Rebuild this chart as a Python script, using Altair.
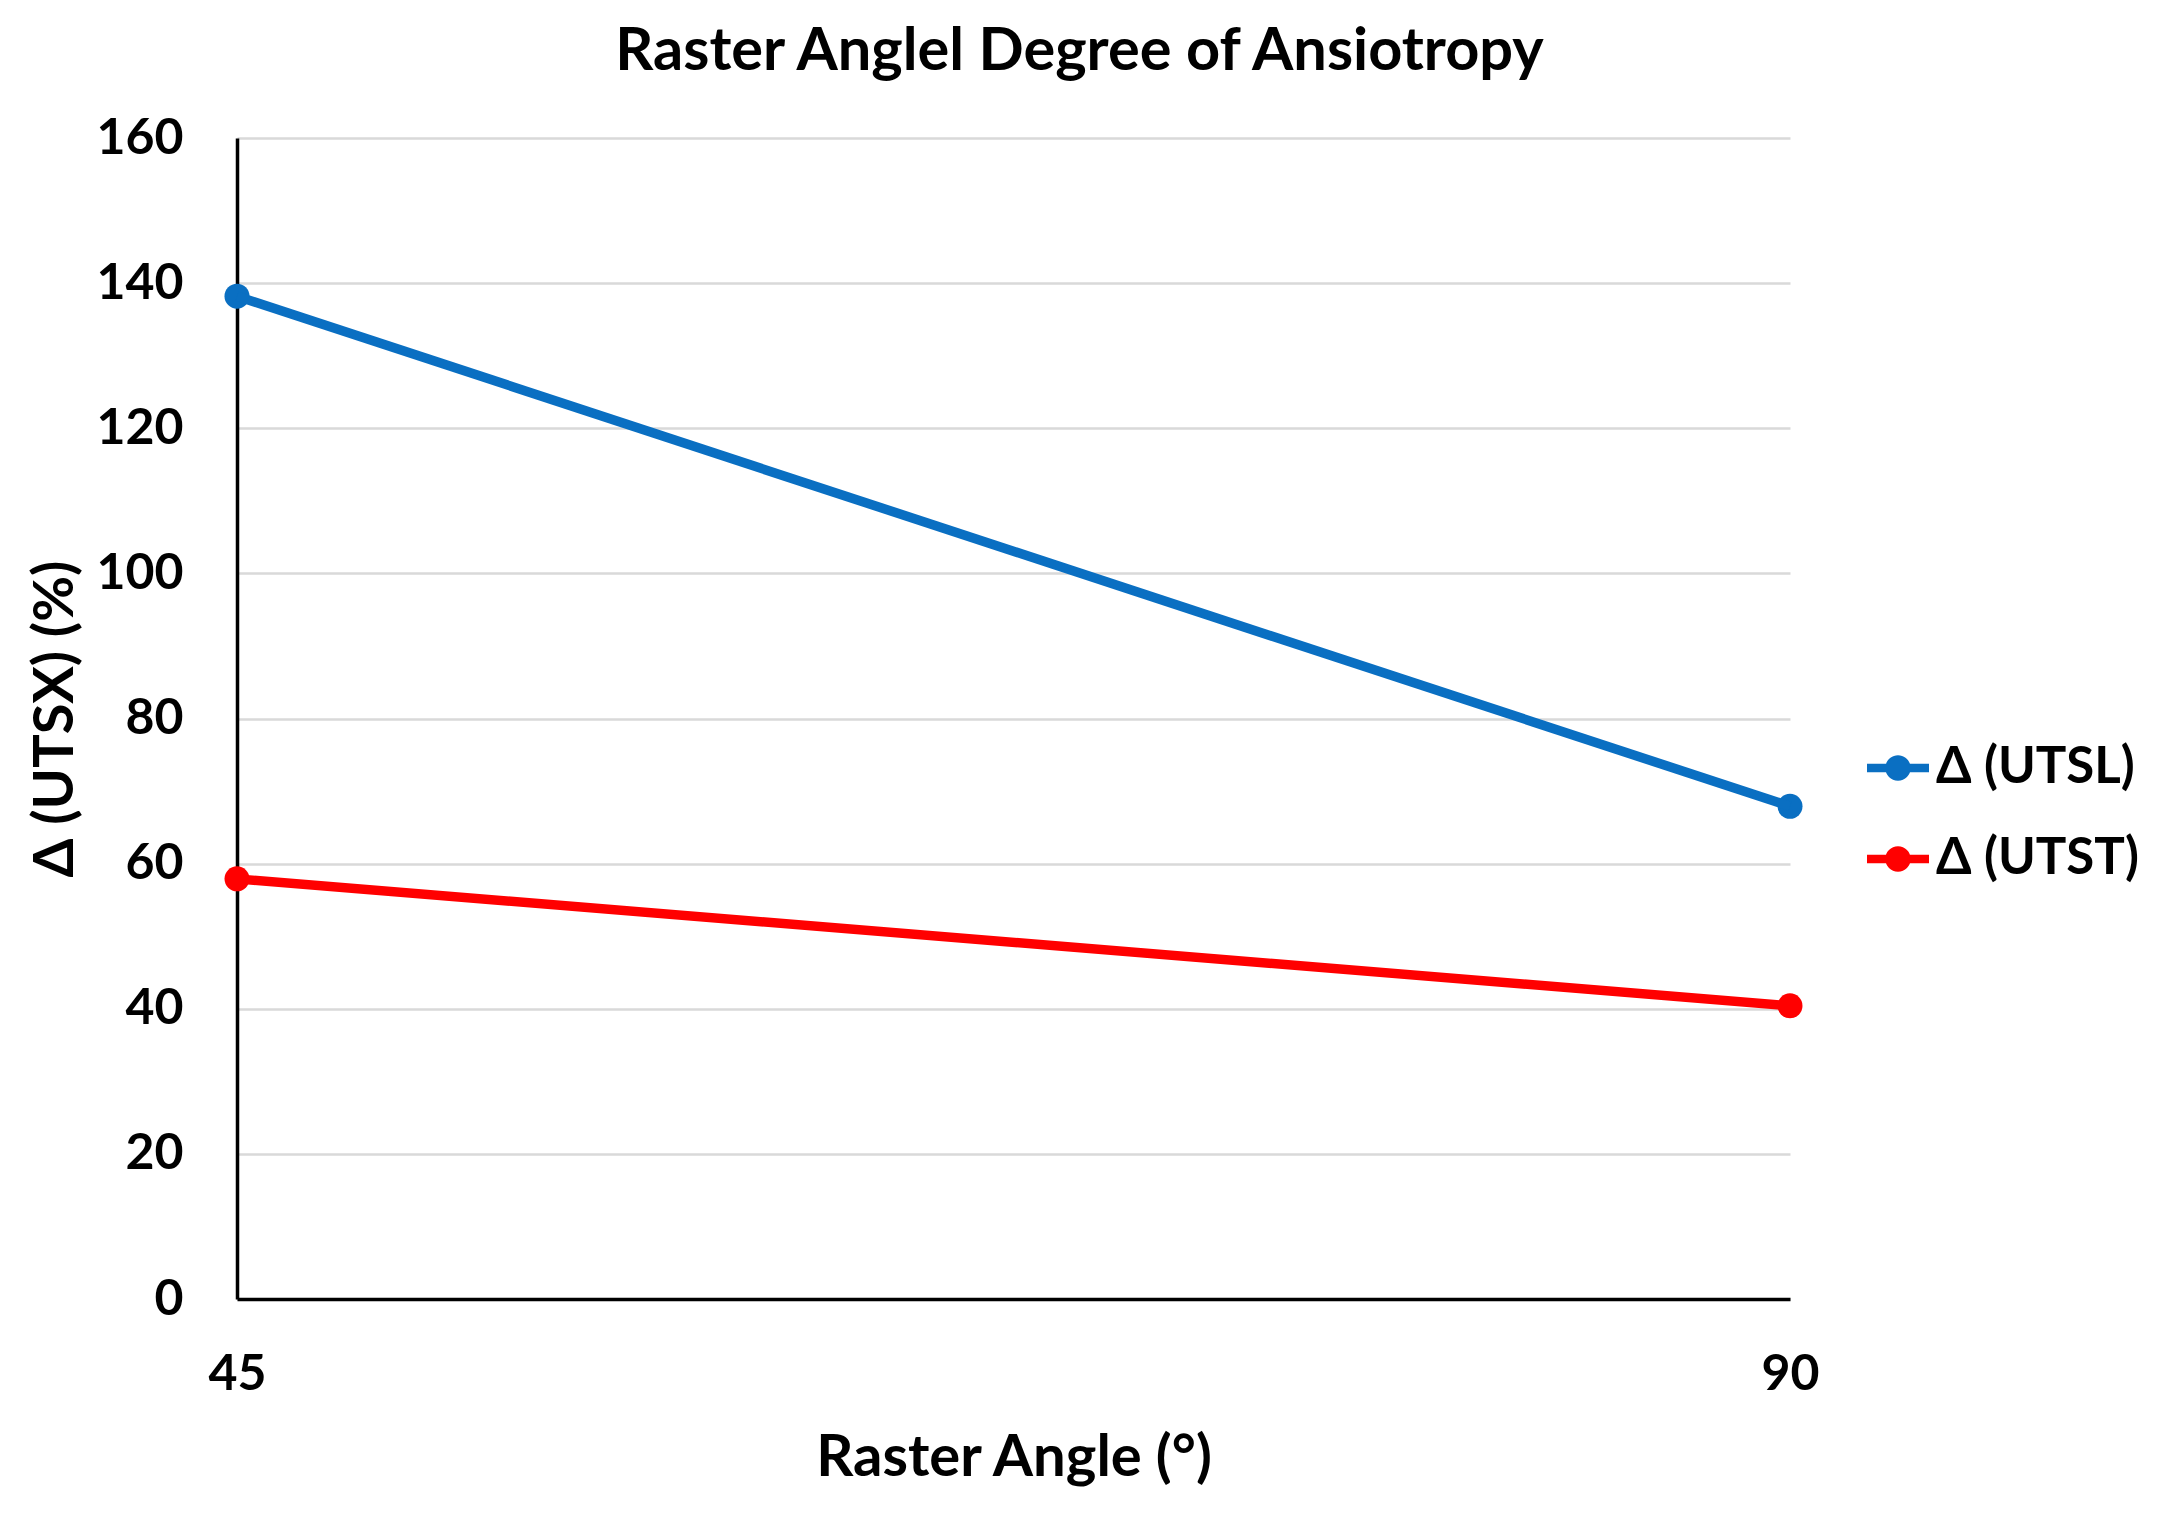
import altair as alt
import pandas as pd

angles = [45, 90]
series_names = ["Δ (UTSL)", "Δ (UTST)"]
utsl = [138.2, 67.9]
utst = [57.9, 40.4]
colors = ["#0a6fc2", "#ff0000"]
y_ticks = [0, 20, 40, 60, 80, 100, 120, 140, 160]
x_ticks = [45, 90]

rows = []
for a, v in zip(angles, utsl):
    rows.append({"angle": a, "value": v, "series": series_names[0]})
for a, v in zip(angles, utst):
    rows.append({"angle": a, "value": v, "series": series_names[1]})
df = pd.DataFrame(rows)

FONT = "Lato"

x_enc = alt.X(
    "angle:Q",
    scale=alt.Scale(domain=[45, 90], nice=False, zero=False),
    axis=alt.Axis(
        values=x_ticks, title="Raster Angle (°)", grid=False, ticks=False, tickSize=0,
        domainColor="black", domainWidth=3.5, labelFont=FONT, labelFontSize=50,
        labelFontWeight="bold", labelColor="black", labelPadding=75,
        labelBaseline="middle", labelFlush=False, titleFont=FONT, titleFontSize=58,
        titleFontWeight="bold", titleColor="black", titleX=776.5, titleY=159,
        titleBaseline="middle", titleAnchor="middle",
    ),
)
y_enc = alt.Y(
    "value:Q",
    scale=alt.Scale(domain=[0, 160], nice=False),
    axis=alt.Axis(
        values=y_ticks, title="Δ (UTSX) (%)", grid=True, gridColor="#d9d9d9",
        gridWidth=2.5, ticks=False, tickSize=0, domainColor="black", domainWidth=3.5,
        labelFont=FONT, labelFontSize=50, labelFontWeight="bold", labelColor="black",
        labelPadding=54, labelFlush=False, titleFont=FONT, titleFontSize=56,
        titleFontWeight="bold", titleColor="black", titleX=-182, titleY=580.5,
        titleAngle=270, titleBaseline="middle", titleAlign="center",
    ),
)

color_scale = alt.Scale(domain=series_names, range=colors)

legend_symbol = (
    "M-1,-0.14 L1,-0.14 L1,0.14 L-1,0.14 Z "
    "M0.41,0 A0.41,0.41 0 1,1 -0.41,0 A0.41,0.41 0 1,1 0.41,0 Z"
)

legend = alt.Legend(
    title=None, orient="none", legendX=1630, legendY=599,
    symbolType=legend_symbol, symbolSize=3844, symbolStrokeWidth=0,
    symbolOpacity=1, labelFont=FONT, labelFontSize=51, labelFontWeight="bold",
    labelColor="black", labelOffset=7, rowPadding=35, padding=0,
    labelLimit=400,
)

points = alt.Chart(df).mark_point(filled=True, size=625, opacity=1, strokeWidth=0).encode(
    x=x_enc,
    y=y_enc,
    color=alt.Color("series:N", scale=color_scale, legend=legend),
)

lines = alt.Chart(df).mark_line(strokeWidth=9.5).encode(
    x=x_enc,
    y=y_enc,
    color=alt.Color("series:N", scale=color_scale, legend=legend),
    detail="series:N",
)

chart = (
    alt.layer(points, lines)
    .properties(
        width=1553,
        height=1161,
        title=alt.TitleParams(
            "Raster Anglel Degree of Ansiotropy", font=FONT, fontSize=59.5,
            fontWeight="bold", color="black", anchor="middle", dx=66, offset=31,
        ),
        autosize=alt.AutoSizeParams(type="none"),
        padding={"left": 229, "top": 130, "right": 360, "bottom": 190},
        background="white",
    )
    .configure_view(stroke=None)
)

chart.save("out.html", embed_options={"renderer": "svg", "actions": False})
